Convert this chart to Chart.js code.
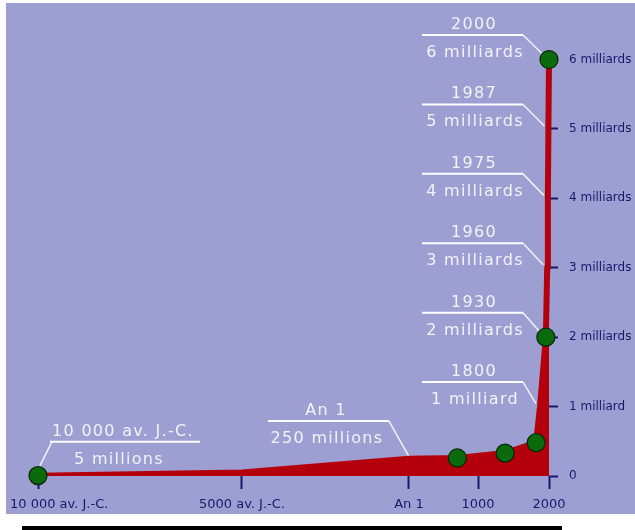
<!DOCTYPE html>
<html lang="fr">
<head>
<meta charset="utf-8">
<title>Population mondiale</title>
<script src="https://cdn.jsdelivr.net/npm/chart.js@4/dist/chart.umd.min.js"></script>
<style>
  html, body { margin: 0; padding: 0; background: #ffffff; }
  canvas { display: block; }
</style>
</head>
<body>
<canvas id="chart" width="635" height="530"></canvas>
<script>
// World population, in milliards (billions), by year (negative = av. J.-C.)
const years      = [-10000, -5000, 0, 700, 1350, 1750, 1800, 1930, 1960, 1975, 1987, 2000];
const population = [0.005, 0.05, 0.25, 0.26, 0.33, 0.48, 1, 2, 3, 4, 5, 6];

// Years marked with a green dot
const dotYears = [-10000, 700, 1350, 1750, 1930, 2000];

// Years carrying a white caption (year + population)
const captionYears = [-10000, 0, 1800, 1930, 1960, 1975, 1987, 2000];

// Axis ticks
const xTickYears  = [-10000, -5000, 0, 1000, 2000];
const xTickLabels = ['10 000 av. J.-C.', '5000 av. J.-C.', 'An 1', '1000', '2000'];
const yTickValues = [0, 1, 2, 3, 4, 5, 6];
const yTickLabels = ['0', '1 milliard', '2 milliards', '3 milliards', '4 milliards', '5 milliards', '6 milliards'];

// Time axis is drawn in segments of unequal scale (share of the axis width at each break)
const X_BREAK_YEARS = [-10000, -5000, 0, 1000, 1800, 2000];
const X_BREAK_SHARE = [0, 0.3992, 0.7260, 0.8611, 0.9824, 1];

const NAVY = '#18186a';
const RED = '#b4000c';
const LAVENDER = '#9d9fd3';

function popAt(year) {
  return population[years.indexOf(year)];
}
function yearText(y) {
  if (y < 0) return String(-y).replace(/\B(?=(\d{3})+(?!\d))/g, ' ') + ' av. J.-C.';
  if (y === 0) return 'An 1';
  return String(y);
}
function popText(v) {
  if (v < 1) return Math.round(v * 1000) + ' millions';
  return v + (v > 1 ? ' milliards' : ' milliard');
}

// Linear scale whose value->pixel mapping is piecewise between the break years
class SegmentedTimeScale extends Chart.LinearScale {
  static id = 'segmentedTime';
  static defaults = Chart.LinearScale.defaults;
  getPixelForValue(value) {
    const v = Math.max(X_BREAK_YEARS[0], Math.min(X_BREAK_YEARS[X_BREAK_YEARS.length - 1], value));
    let i = 0;
    while (i < X_BREAK_YEARS.length - 2 && v > X_BREAK_YEARS[i + 1]) i++;
    const t = (v - X_BREAK_YEARS[i]) / (X_BREAK_YEARS[i + 1] - X_BREAK_YEARS[i]);
    const share = X_BREAK_SHARE[i] + t * (X_BREAK_SHARE[i + 1] - X_BREAK_SHARE[i]);
    return this.getPixelForDecimal(share);
  }
  getValueForPixel(pixel) {
    const d = this.getDecimalForPixel(pixel);
    let i = 0;
    while (i < X_BREAK_SHARE.length - 2 && d > X_BREAK_SHARE[i + 1]) i++;
    const t = (d - X_BREAK_SHARE[i]) / (X_BREAK_SHARE[i + 1] - X_BREAK_SHARE[i]);
    return X_BREAK_YEARS[i] + t * (X_BREAK_YEARS[i + 1] - X_BREAK_YEARS[i]);
  }
}
Chart.register(SegmentedTimeScale);

// Caption layout per year: underline span, offset of underline from the point, leader side
const captionLayout = {
  '-10000': { x0: 50, x1: 200, dy: -34, side: 'left', titleCx: 123, valueCx: 119 },
  '0':      { x0: 268, x1: 389, dy: -37.6, side: 'right', titleCx: 326, valueCx: 327 },
  'stack':  { x0: 422, x1: 523, dy: -24.5, side: 'right', titleCx: 474, valueCx: 475 }
};

const backdrop = {
  id: 'backdrop',
  beforeDraw(chart) {
    const ctx = chart.ctx;
    ctx.save();
    ctx.fillStyle = '#ffffff';
    ctx.fillRect(0, 0, chart.width, chart.height);
    ctx.fillStyle = LAVENDER;
    ctx.fillRect(6, 3, chart.width - 6, 511);
    ctx.fillStyle = '#000000';
    ctx.fillRect(22, 526, 540, 4);
    ctx.restore();
  }
};

const captions = {
  id: 'captions',
  beforeDatasetsDraw(chart) {
    const ctx = chart.ctx;
    const xs = chart.scales.x, ys = chart.scales.y;
    ctx.save();
    ctx.font = '16px "DejaVu Sans"';
    if ('letterSpacing' in ctx) ctx.letterSpacing = '1.3px';
    ctx.textAlign = 'center';
    ctx.textBaseline = 'alphabetic';
    captionYears.forEach(yr => {
      const v = popAt(yr);
      const px = xs.getPixelForValue(yr);
      const py = ys.getPixelForValue(v);
      const L = captionLayout[String(yr)] || captionLayout.stack;
      const uy = py + L.dy;
      // leader
      ctx.strokeStyle = 'rgba(255,255,255,0.85)';
      ctx.lineWidth = 1.5;
      ctx.beginPath();
      if (L.side === 'left') {
        ctx.moveTo(L.x0 + 2, uy);
        ctx.lineTo(px + 2, py - 10);
      } else if (yr === 0) {
        ctx.moveTo(L.x1, uy);
        ctx.lineTo(px, py - 2);
      } else {
        ctx.moveTo(L.x1, uy);
        ctx.lineTo(px - 4, py - 3);
      }
      ctx.stroke();
      // underline
      ctx.strokeStyle = '#ffffff';
      ctx.lineWidth = 2;
      ctx.beginPath();
      ctx.moveTo(L.x0, uy);
      ctx.lineTo(L.x1, uy);
      ctx.stroke();
      // texts
      ctx.fillStyle = '#f3f3f7';
      ctx.fillText(yearText(yr), L.titleCx, uy - 6);
      ctx.fillText(popText(v), L.valueCx, uy + 22);
    });
    ctx.restore();
  }
};

const xLabels = {
  id: 'xLabels',
  afterDraw(chart) {
    const ctx = chart.ctx;
    const xs = chart.scales.x;
    ctx.save();
    ctx.font = '13px "DejaVu Sans"';
    ctx.fillStyle = NAVY;
    ctx.textAlign = 'left';
    ctx.textBaseline = 'alphabetic';
    xTickYears.forEach((yr, i) => {
      const px = xs.getPixelForValue(yr);
      const w = ctx.measureText(xTickLabels[i]).width;
      const left = Math.max(10, px - w / 2);
      ctx.fillText(xTickLabels[i], left, 508);
    });
    ctx.restore();
  }
};

new Chart(document.getElementById('chart'), {
  type: 'line',
  data: {
    datasets: [
      {
        label: 'Population',
        data: years.map((x, i) => ({ x, y: population[i] })),
        borderColor: RED,
        backgroundColor: RED,
        borderWidth: 6,
        fill: 'origin',
        pointRadius: 0,
        tension: 0,
        borderJoinStyle: 'round',
        clip: { left: 10, right: 10, top: 10, bottom: 0 },
        order: 1
      },
      {
        label: 'Repères',
        data: dotYears.map(x => ({ x, y: popAt(x) })),
        showLine: false,
        pointRadius: 9,
        pointBackgroundColor: '#0b6a0b',
        pointBorderColor: '#032803',
        pointBorderWidth: 1.2,
        clip: false,
        order: 0
      }
    ]
  },
  options: {
    responsive: false,
    animation: false,
    devicePixelRatio: 1,
    events: [],
    layout: { autoPadding: false, padding: { left: 38, top: 4, right: 0, bottom: 0 } },
    plugins: {
      legend: { display: false },
      tooltip: { enabled: false }
    },
    scales: {
      x: {
        type: 'segmentedTime',
        min: -10000,
        max: 2000,
        afterBuildTicks: s => { s.ticks = xTickYears.map(v => ({ value: v })); },
        afterFit: s => { s.height = 54; s.paddingLeft = 0; s.paddingRight = 0; },
        ticks: { display: false },
        grid: {
          drawOnChartArea: false,
          drawTicks: true,
          tickLength: 13,
          tickWidth: 2,
          tickColor: NAVY
        },
        border: { display: false }
      },
      y: {
        position: 'right',
        min: 0,
        max: 6.8,
        afterBuildTicks: s => { s.ticks = yTickValues.map(v => ({ value: v })); },
        afterFit: s => { s.width = 86; s.paddingTop = 0; s.paddingBottom = 0; },
        ticks: {
          padding: 11,
          color: NAVY,
          font: { family: '"DejaVu Sans"', size: 12 },
          callback: v => yTickLabels[yTickValues.indexOf(v)]
        },
        grid: {
          drawOnChartArea: false,
          drawTicks: true,
          tickLength: 9,
          tickWidth: 2,
          tickColor: NAVY
        },
        border: { display: false }
      }
    }
  },
  plugins: [backdrop, captions, xLabels]
});
</script>
</body>
</html>
